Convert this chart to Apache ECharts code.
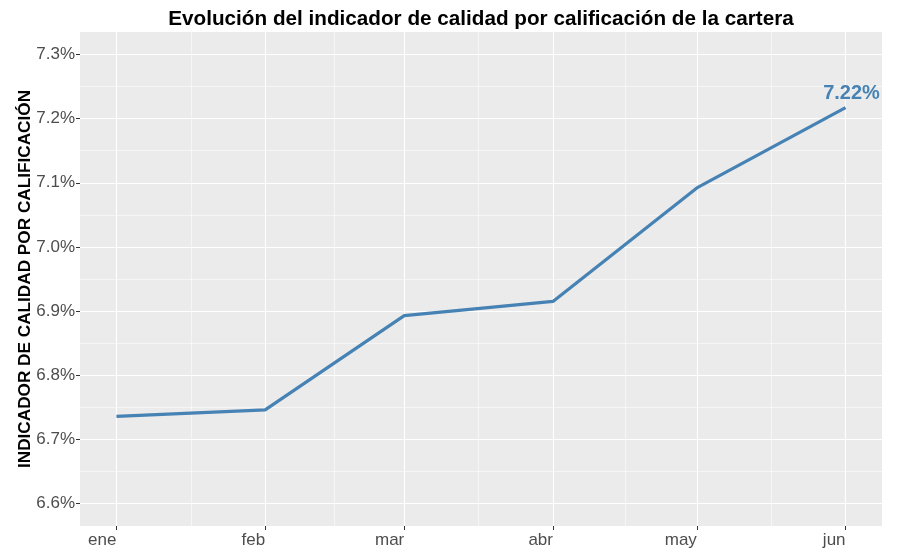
<!DOCTYPE html>
<html>
<head>
<meta charset="utf-8">
<script src="https://cdn.jsdelivr.net/npm/echarts@6/dist/echarts.min.js"></script>
<style>html,body{margin:0;padding:0;background:#fff}#c{width:899px;height:549px}</style>
</head>
<body>
<div id="c"></div>
<script>
// ---- data ----
const monthLabels = ['ene', 'feb', 'mar', 'abr', 'may', 'jun'];
const monthDates = ['2024-01-01', '2024-02-01', '2024-03-01', '2024-04-01', '2024-05-01', '2024-06-01'];
const indicatorValues = [6.736, 6.746, 6.893, 6.915, 7.092, 7.217];
const yTickValues = [6.6, 6.7, 6.8, 6.9, 7.0, 7.1, 7.2, 7.3];
const yMinorValues = [6.65, 6.75, 6.85, 6.95, 7.05, 7.15, 7.25];
const xMinorDates = ['2024-01-16T12:00:00Z', '2024-02-15T12:00:00Z', '2024-03-16T12:00:00Z', '2024-04-16T00:00:00Z', '2024-05-16T12:00:00Z'];

const ts = s => Date.parse(s.length === 10 ? s + 'T00:00:00Z' : s);
const xTicks = monthDates.map(ts);
const xMinor = xMinorDates.map(ts);
const span = xTicks[xTicks.length - 1] - xTicks[0];
const xMin = xTicks[0] - span * 0.05;
const xMax = xTicks[xTicks.length - 1] + span * 0.05;
const yRange = yTickValues[yTickValues.length - 1] - yTickValues[0];
const yMin = yTickValues[0] - yRange * 0.05;
const yMax = yTickValues[yTickValues.length - 1] + yRange * 0.05;

const lastIdx = xTicks.length - 1;
const lineData = xTicks.map((t, i) => {
  const item = { value: [t, indicatorValues[i]] };
  if (i === lastIdx) {
    item.label = {
      show: true, position: 'top', distance: 4, offset: [6, 0],
      formatter: p => p.value[1].toFixed(2) + '%',
      color: '#4682B4', fontWeight: 'bold', fontSize: 20,
      fontFamily: 'Liberation Sans'
    };
  }
  return item;
});

const majorStyle = { color: '#FFFFFF', width: 1.1, type: 'solid' };
const minorStyle = { color: '#FFFFFF', width: 0.55, type: 'solid' };
const gridLines = []
  .concat(yMinorValues.map(v => ({ yAxis: v, lineStyle: minorStyle })))
  .concat(xMinor.map(v => ({ xAxis: v, lineStyle: minorStyle })))
  .concat(yTickValues.map(v => ({ yAxis: v, lineStyle: majorStyle })))
  .concat(xTicks.map(v => ({ xAxis: v, lineStyle: majorStyle })));

const chart = echarts.init(document.getElementById('c'), null, { renderer: 'canvas' });
chart.setOption({
  animation: false,
  backgroundColor: '#FFFFFF',
  textStyle: { fontFamily: 'Liberation Sans' },
  title: {
    text: 'Evolución del indicador de calidad por calificación de la cartera',
    left: 476, top: 4, textAlign: 'center',
    textStyle: { fontFamily: 'Liberation Sans', fontWeight: 'bold', fontSize: 20.7, color: '#000000' }
  },
  grid: {
    left: 80, right: 17, top: 32, bottom: 22,
    show: true, backgroundColor: '#EBEBEB', borderWidth: 0
  },
  xAxis: {
    type: 'value', min: xMin, max: xMax,
    axisLine: { show: false },
    splitLine: { show: false },
    axisTick: { show: true, customValues: xTicks, length: 4, lineStyle: { color: '#333333', width: 1 } },
    axisLabel: {
      customValues: xTicks, margin: 6, align: 'right',
      formatter: v => monthLabels[xTicks.indexOf(v)] || '',
      color: '#4D4D4D', fontSize: 17, fontFamily: 'Liberation Sans'
    }
  },
  yAxis: {
    type: 'value', min: yMin, max: yMax,
    name: 'INDICADOR DE CALIDAD POR CALIFICACIÓN',
    nameLocation: 'middle', nameGap: 46, nameRotate: 90, nameMoveOverlap: false,
    nameTextStyle: { fontFamily: 'Liberation Sans', fontWeight: 'bold', fontSize: 17.2, color: '#000000' },
    axisLine: { show: false },
    splitLine: { show: false },
    axisTick: { show: true, customValues: yTickValues, length: 4, lineStyle: { color: '#333333', width: 1 } },
    axisLabel: {
      customValues: yTickValues, margin: 5,
      formatter: v => v.toFixed(1) + '%',
      color: '#4D4D4D', fontSize: 17, fontFamily: 'Liberation Sans'
    }
  },
  series: [
    {
      type: 'line', z: 1, data: [], silent: true,
      markLine: { silent: true, z: 1, symbol: 'none', label: { show: false }, animation: false, data: gridLines }
    },
    {
      type: 'line', z: 3, data: lineData, showSymbol: true, symbol: 'circle', symbolSize: 0.01,
      lineStyle: { color: '#4682B4', width: 3.2 },
      itemStyle: { color: '#4682B4' }
    }
  ]
});
</script>
</body>
</html>
